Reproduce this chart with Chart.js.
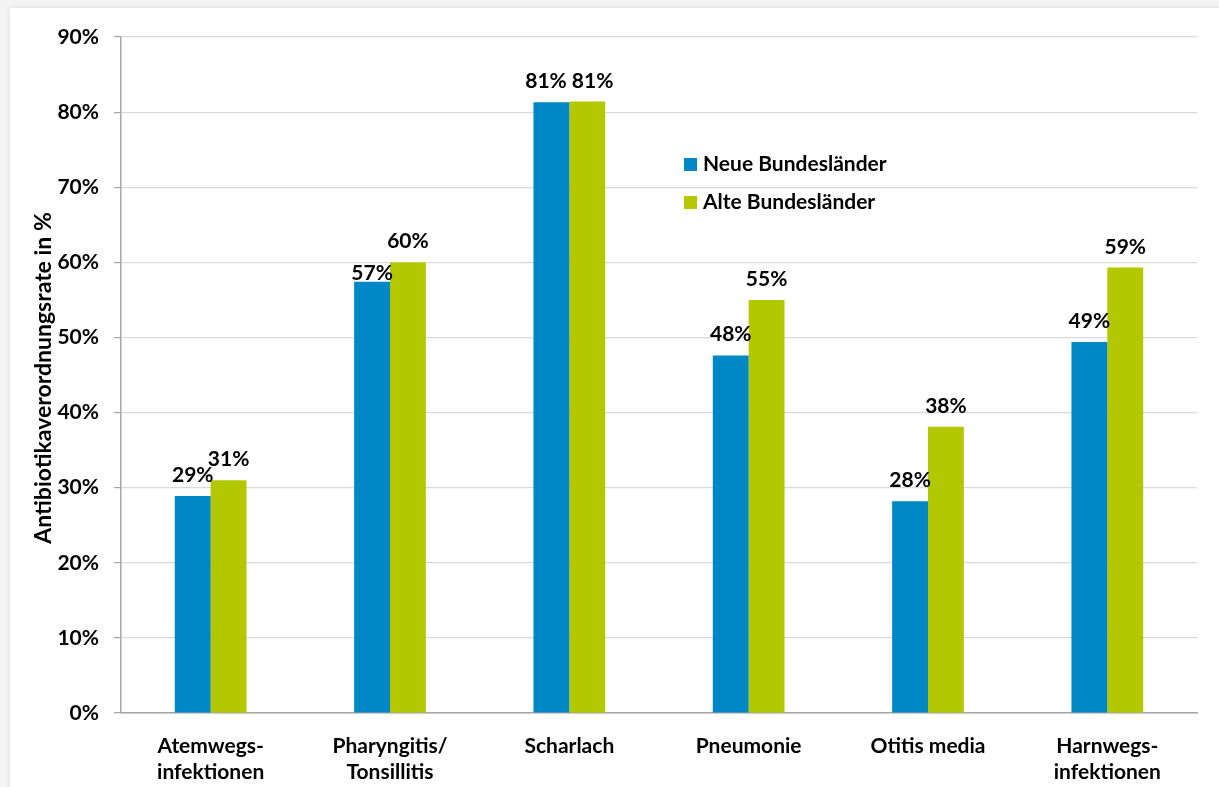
<!DOCTYPE html>
<html lang="de">
<head>
  <meta charset="UTF-8">
  <title>Antibiotikaverordnungsrate</title>
  <script src="https://cdn.jsdelivr.net/npm/chart.js"></script>
  <style>
    html, body {
      margin: 0;
      padding: 0;
      background: #f4f4f4;
      overflow: hidden;
    }
    #panel {
      position: absolute;
      left: 10px;
      top: 8px;
      width: 1240px;
      height: 800px;
      background: #fff;
      box-shadow: 0 0 6px rgba(0,0,0,0.10);
    }
    #wrap {
      position: absolute;
      left: 0;
      top: 0;
      width: 1219px;
      height: 787px;
    }
  </style>
</head>
<body>
<div id="panel"></div>
<div id="wrap">
  <canvas id="chart" width="1219" height="787"></canvas>
</div>

<script>
  const categories = [
    ["Atemwegs-", "infektionen"],
    ["Pharyngitis/", "Tonsillitis"],
    "Scharlach",
    "Pneumonie",
    "Otitis media",
    ["Harnwegs-", "infektionen"]
  ];
  const neueBundeslaender = [28.9, 57.4, 81.3, 47.6, 28.2, 49.4];
  const alteBundeslaender = [31.0, 60.0, 81.4, 55.0, 38.1, 59.3];
  const seriesNames = ["Neue Bundesländer", "Alte Bundesländer"];
  const yTicks = [0, 10, 20, 30, 40, 50, 60, 70, 80, 90];

  const FONT = "Lato, 'Open Sans', sans-serif";
  const BLUE = '#0087c5';
  const GREEN = '#b3c800';

  // value labels above the bars
  const valueLabels = {
    id: 'valueLabels',
    afterDatasetsDraw(chart) {
      const ctx = chart.ctx;
      ctx.save();
      ctx.font = 'bold 21px ' + FONT;
      ctx.fillStyle = '#000';
      ctx.textAlign = 'center';
      ctx.textBaseline = 'alphabetic';
      const metaA = chart.getDatasetMeta(0).data;
      const metaB = chart.getDatasetMeta(1).data;
      metaA.forEach((barA, i) => {
        const barB = metaB[i];
        const tA = Math.round(neueBundeslaender[i]) + '%';
        const tB = Math.round(alteBundeslaender[i]) + '%';
        // the 57% label sits right on its bar in the original
        const yA = barA.y - (i === 1 ? 2 : 14);
        const yB = barB.y - 14;
        let xA = barA.x, xB = barB.x;
        // push the two labels apart when they are on the same line
        if (Math.abs(yA - yB) < 6) {
          const need = (ctx.measureText(tA).width + ctx.measureText(tB).width) / 2 + 5;
          const gap = xB - xA;
          if (gap < need) {
            xA -= (need - gap) / 2;
            xB += (need - gap) / 2;
          }
        }
        ctx.fillText(tA, xA, yA);
        ctx.fillText(tB, xB, yB);
      });
      ctx.restore();
    }
  };

  // legend inside the plot, plus rotated y title
  const extras = {
    id: 'extras',
    afterDraw(chart) {
      const ctx = chart.ctx;
      ctx.save();
      ctx.font = 'bold 21px ' + FONT;
      ctx.textBaseline = 'alphabetic';
      const rows = [158, 196];
      chart.data.datasets.forEach((ds, di) => {
        ctx.fillStyle = ds.backgroundColor;
        ctx.fillRect(684, rows[di], 13, 13);
        ctx.fillStyle = '#000';
        ctx.textAlign = 'left';
        ctx.fillText(ds.label, 703, rows[di] + 13);
      });

      const area = chart.chartArea;
      ctx.translate(44, (area.top + area.bottom) / 2 + 3);
      ctx.rotate(-Math.PI / 2);
      ctx.textAlign = 'center';
      ctx.textBaseline = 'middle';
      ctx.font = 'bold 23px ' + FONT;
      ctx.fillText('Antibiotikaverordnungsrate in %', 0, 0);
      ctx.restore();
    }
  };

  new Chart(document.getElementById('chart'), {
    type: 'bar',
    data: {
      labels: categories,
      datasets: [
        { label: seriesNames[0], data: neueBundeslaender, backgroundColor: BLUE },
        { label: seriesNames[1], data: alteBundeslaender, backgroundColor: GREEN }
      ]
    },
    options: {
      responsive: false,
      animation: false,
      layout: { padding: { top: 37, right: 22, left: 0, bottom: 0 } },
      datasets: {
        bar: { barPercentage: 1.0, categoryPercentage: 0.4 }
      },
      plugins: {
        legend: { display: false },
        tooltip: { enabled: false }
      },
      scales: {
        x: {
          grid: { display: false },
          border: { color: '#a6a6a6', width: 1.5 },
          ticks: {
            color: '#000',
            padding: 12,
            maxRotation: 0,
            font: { family: FONT, size: 21, weight: 'bold', lineHeight: 1.25 }
          },
          afterFit(scale) { scale.height = 74; }
        },
        y: {
          min: 0,
          max: 90,
          afterBuildTicks(scale) { scale.ticks = yTicks.map(v => ({ value: v })); },
          grid: { color: '#d9d9d9', tickColor: '#a6a6a6', tickLength: 7, lineWidth: 1.2 },
          border: { color: '#a6a6a6', width: 1.5 },
          ticks: {
            color: '#000',
            padding: 15,
            font: { family: FONT, size: 21, weight: 'bold' },
            callback: v => v + '%'
          },
          afterFit(scale) { scale.width = 121; }
        }
      }
    },
    plugins: [valueLabels, extras]
  });
</script>
</body>
</html>
